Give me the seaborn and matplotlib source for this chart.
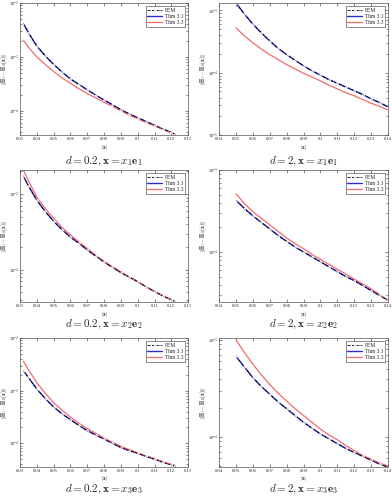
import numpy as np
import pandas as pd
import matplotlib
matplotlib.use("Agg")
import matplotlib.pyplot as plt
import seaborn as sns
from matplotlib.ticker import LogLocator, NullFormatter

# x grids (|x|) for d = 0.2 (left column) and d = 2 (right column)
x_left = [0.032, 0.035, 0.040, 0.045, 0.050, 0.055, 0.060, 0.065, 0.070, 0.075,
          0.080, 0.085, 0.090, 0.095, 0.100, 0.105, 0.110, 0.115, 0.120, 0.122]
x_right = [0.050, 0.055, 0.060, 0.065, 0.070, 0.075, 0.080, 0.085, 0.090, 0.095,
           0.100, 0.105, 0.110, 0.115, 0.120, 0.125, 0.130, 0.135, 0.140]

# log10 of the error (Thm 3.1 sits on top of FEM)
fem_d02_e1 = [-2.38, -2.55, -2.80, -2.98, -3.14, -3.28, -3.41, -3.51, -3.61, -3.71,
              -3.80, -3.89, -3.98, -4.06, -4.13, -4.20, -4.27, -4.34, -4.40, -4.43]
thm33_d02_e1 = [-2.69, -2.82, -3.00, -3.14, -3.27, -3.39, -3.49, -3.59, -3.68, -3.76,
                -3.84, -3.92, -4.00, -4.08, -4.15, -4.22, -4.28, -4.35, -4.41, -4.44]

fem_d2_e1 = [-2.88, -3.06, -3.22, -3.36, -3.49, -3.61, -3.71, -3.80, -3.89, -3.97,
             -4.04, -4.11, -4.17, -4.23, -4.29, -4.35, -4.42, -4.48, -4.55]
thm33_d2_e1 = [-3.28, -3.41, -3.52, -3.62, -3.71, -3.79, -3.87, -3.94, -4.01, -4.07,
               -4.13, -4.20, -4.26, -4.32, -4.37, -4.43, -4.49, -4.54, -4.60]

fem_d02_e2 = [-2.76, -2.89, -3.08, -3.23, -3.36, -3.47, -3.57, -3.65, -3.74, -3.82,
              -3.90, -3.97, -4.04, -4.10, -4.16, -4.23, -4.29, -4.35, -4.40, -4.42]
thm33_d02_e2 = [-2.68, -2.82, -3.04, -3.19, -3.32, -3.44, -3.54, -3.63, -3.72, -3.81,
                -3.89, -3.96, -4.03, -4.10, -4.16, -4.23, -4.29, -4.35, -4.40, -4.42]

fem_d2_e2 = [-3.37, -3.47, -3.56, -3.64, -3.72, -3.80, -3.87, -3.94, -4.00, -4.06,
             -4.12, -4.18, -4.24, -4.30, -4.35, -4.41, -4.47, -4.53, -4.59]
thm33_d2_e2 = [-3.29, -3.41, -3.51, -3.59, -3.67, -3.75, -3.83, -3.90, -3.96, -4.03,
               -4.09, -4.15, -4.21, -4.27, -4.33, -4.39, -4.45, -4.52, -4.59]

fem_d02_e3 = [-2.62, -2.75, -2.97, -3.15, -3.31, -3.44, -3.55, -3.66, -3.76, -3.84,
              -3.92, -4.00, -4.08, -4.14, -4.19, -4.25, -4.30, -4.36, -4.41, -4.43]
thm33_d02_e3 = [-2.44, -2.60, -2.85, -3.05, -3.23, -3.37, -3.50, -3.62, -3.72, -3.81,
                -3.90, -3.98, -4.06, -4.12, -4.18, -4.24, -4.29, -4.35, -4.40, -4.42]

fem_d2_e3 = [-3.17, -3.28, -3.39, -3.48, -3.56, -3.64, -3.71, -3.78, -3.85, -3.91,
             -3.97, -4.02, -4.07, -4.12, -4.16, -4.20, -4.24, -4.28, -4.31]
thm33_d2_e3 = [-3.00, -3.13, -3.25, -3.36, -3.46, -3.55, -3.63, -3.71, -3.78, -3.85,
               -3.92, -3.98, -4.03, -4.09, -4.14, -4.19, -4.23, -4.27, -4.30]

titles = [r"$d=0.2, \mathbf{x}=x_1\mathbf{e}_1$", r"$d=2, \mathbf{x}=x_1\mathbf{e}_1$",
          r"$d=0.2, \mathbf{x}=x_2\mathbf{e}_2$", r"$d=2, \mathbf{x}=x_2\mathbf{e}_2$",
          r"$d=0.2, \mathbf{x}=x_3\mathbf{e}_3$", r"$d=2, \mathbf{x}=x_3\mathbf{e}_3$"]

sns.set_style("ticks")
plt.rcParams["font.family"] = ["Liberation Serif", "DejaVu Serif"]
plt.rcParams["mathtext.fontset"] = "cm"

panels = [
    (x_left, fem_d02_e1, thm33_d02_e1, (0.03, 0.13), (-4.45, -2.0)),
    (x_right, fem_d2_e1, thm33_d2_e1, (0.04, 0.14), (-5.0, -2.88)),
    (x_left, fem_d02_e2, thm33_d02_e2, (0.03, 0.13), (-4.43, -2.68)),
    (x_right, fem_d2_e2, thm33_d2_e2, (0.04, 0.14), (-4.61, -3.0)),
    (x_left, fem_d02_e3, thm33_d02_e3, (0.03, 0.13), (-4.45, -2.0)),
    (x_right, fem_d2_e3, thm33_d2_e3, (0.04, 0.14), (-4.31, -2.98)),
]

fig = plt.figure(figsize=(3.92, 5.0), dpi=100)
cols = [(0.051, 0.429), (0.559, 0.431)]
rows = [(0.730, 0.264), (0.396, 0.264), (0.066, 0.258)]
title_y = [0.678, 0.352, 0.021]

for i, (xs, fem, thm33, xlim, ylim) in enumerate(panels):
    r, c = divmod(i, 2)
    ax = fig.add_axes([cols[c][0], rows[r][0], cols[c][1], rows[r][1]])
    fem_v = 10 ** np.array(fem)
    thm33_v = 10 ** np.array(thm33)
    sns.lineplot(x=xs, y=fem_v, ax=ax, color="#2b2bd6", linewidth=1.0, label="Thm 3.1")
    sns.lineplot(x=xs, y=thm33_v, ax=ax, color="#f26b6b", linewidth=0.9, label="Thm 3.3")
    sns.lineplot(x=xs, y=fem_v, ax=ax, color="black", linewidth=0.6, linestyle="--",
                 marker=".", markersize=2.5, label="FEM")
    ax.set_yscale("log")
    ax.set_xlim(*xlim)
    ax.set_ylim(10 ** ylim[0], 10 ** ylim[1])
    xt = np.round(np.arange(xlim[0], xlim[1] + 1e-9, 0.01), 2)
    ax.set_xticks(xt)
    ax.set_xticklabels([f"{t:g}" for t in xt])
    ax.yaxis.set_major_locator(LogLocator(base=10))
    ax.yaxis.set_minor_locator(LogLocator(base=10, subs=np.arange(2, 10)))
    ax.yaxis.set_minor_formatter(NullFormatter())
    ax.tick_params(which="both", direction="in", top=True, right=True, labelsize=3.3,
                   width=0.4, pad=1.5)
    ax.tick_params(axis="y", which="both", pad=1.0)
    ax.tick_params(which="major", length=2.2)
    ax.tick_params(which="minor", length=1.2)
    for s in ax.spines.values():
        s.set_linewidth(0.5)
        s.set_color("#555555")
    ax.set_xlabel(r"$|\mathbf{x}|$", fontsize=3.8)
    ax.xaxis.set_label_coords(0.5, -0.058)
    ax.set_ylabel(r"$\|\mathbf{H}_\epsilon-\mathbf{H}_0(\mathbf{x})\|$", fontsize=3.8)
    ax.yaxis.set_label_coords(-0.061, 0.5)
    handles, labels = ax.get_legend_handles_labels()
    order = [2, 0, 1]
    leg = ax.legend([handles[k] for k in order], [labels[k] for k in order],
                    loc="upper right", fontsize=4, frameon=True, fancybox=False,
                    handlelength=2.6, borderpad=0.3, labelspacing=0.2, handletextpad=0.5,
                    borderaxespad=0.6)
    leg.get_frame().set_edgecolor("black")
    leg.get_frame().set_linewidth(0.4)
    fig.text(cols[c][0] + cols[c][1] / 2, title_y[r], titles[i], ha="center", va="center",
             fontsize=8)

fig.savefig("out.png", dpi=100)
